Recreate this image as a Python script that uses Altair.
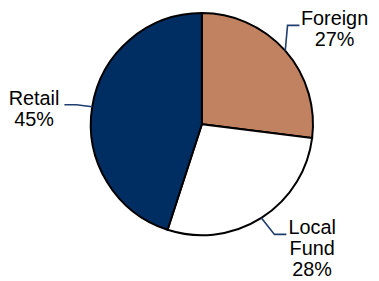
import altair as alt
import pandas as pd

# Data
categories = ["Foreign", "Local Fund", "Retail"]
shares = [27, 28, 45]
slice_colors = ["#C18261", "#FFFFFF", "#002D62"]

df = pd.DataFrame({"category": categories, "share": shares, "idx": list(range(len(categories)))})

# Layout constants (pixels inside the chart)
CX, CY = 192.5, 113     # pie centre
R = 112                 # pie radius
RL = 140                # radius of label anchor
ELB = 12                # horizontal leader segment length
GAP = 2.5               # gap between leader and text
FONT = "Liberation Sans"
LEADER = "#1F3D6E"

base = (
    alt.Chart(df)
    .transform_window(cum="sum(share)", sort=[alt.SortField("idx")], frame=[None, 0])
    .transform_joinaggregate(total="sum(share)")
    .transform_calculate(mid="2*PI*(datum.cum - datum.share/2)/datum.total")
    # labels are nudged slightly towards the horizontal, as in the reference
    .transform_calculate(lab="datum.mid - (6*PI/180)*abs(cos(datum.mid))")
    .transform_calculate(side="sin(datum.mid) >= 0 ? 1 : -1")
    .transform_calculate(ax=f"{CX} + {RL}*sin(datum.lab)")
    .transform_calculate(ay=f"{CY} - {RL}*cos(datum.lab)")
)

pie = alt.Chart(df).mark_arc(
    outerRadius=R, stroke="black", strokeWidth=2, x=CX, y=CY
).encode(
    theta=alt.Theta("share:Q", stack=True),
    color=alt.Color("category:N", scale=alt.Scale(domain=categories, range=slice_colors), legend=None),
    order=alt.Order("idx:Q"),
)

leaders = (
    base.transform_calculate(pt="[0, 1, 2]")
    .transform_flatten(["pt"])
    .transform_calculate(
        px=f"datum.pt == 0 ? {CX} + {R}*sin(datum.mid) : (datum.pt == 1 ? datum.ax - datum.side*{ELB} : datum.ax)"
    )
    .transform_calculate(py=f"datum.pt == 0 ? {CY} - {R}*cos(datum.mid) : datum.ay")
    .mark_line(color=LEADER, strokeWidth=1.6)
    .encode(
        x=alt.X("px:Q", scale=None, axis=None),
        y=alt.Y("py:Q", scale=None, axis=None),
        detail="category:N",
        order="pt:Q",
    )
)

labels = (
    base.transform_calculate(
        label="replace(datum.category, ' ', '|') + '|' + round(100*datum.share/datum.total) + '%'"
    )
    .transform_calculate(
        tx=f"datum.ax + datum.side*({GAP} + 4.7*length(split(datum.category, ' ')[0]))"
    )
    .mark_text(
        font=FONT, fontSize=20, align="center", baseline="alphabetic",
        lineBreak="|", lineHeight=21, color="black",
    )
    .encode(
        x=alt.X("tx:Q", scale=None, axis=None),
        y=alt.Y("ay:Q", scale=None, axis=None),
        text="label:N",
    )
)

chart = (
    alt.layer(pie, leaders, labels)
    .properties(width=363, height=265, padding=0, background="white")
    .configure_view(stroke=None)
)

chart.save("out.html", embed_options={"renderer": "svg", "actions": False})
